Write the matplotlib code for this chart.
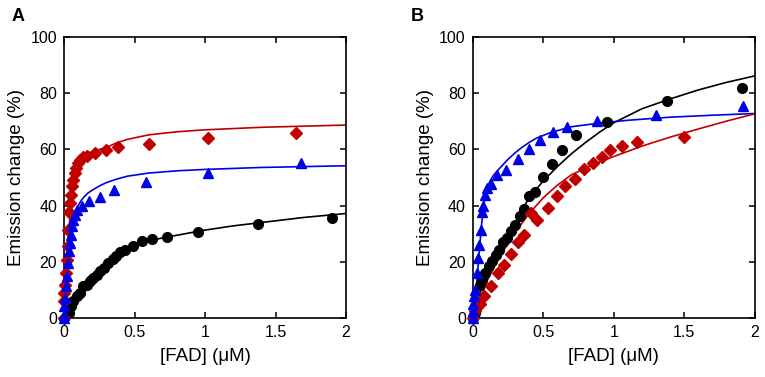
import matplotlib
matplotlib.use("Agg")
import matplotlib.pyplot as plt

plt.rcParams.update({
    "font.family": ["Liberation Sans", "DejaVu Sans"],
    "font.size": 11,
})

RED = "#C00000"
BLUE = "#0000E6"
BLACK = "#000000"

# ---- panel A data ----
a_red_x = [0, 0, 0.0, 0.007, 0.012, 0.019, 0.026, 0.031, 0.038, 0.043, 0.050, 0.059,
           0.066, 0.078, 0.085, 0.097, 0.113, 0.137, 0.165, 0.22, 0.298, 0.385, 0.603,
           1.019, 1.645]
a_red_y = [0, 5.9, 8.9, 11.9, 16.0, 20.8, 25.5, 31.4, 37.7, 40.9, 43.9, 46.9,
           49.2, 51.6, 53.4, 55.2, 56.3, 57.3, 57.8, 58.6, 59.9, 61.0, 62.0,
           64.1, 65.8]
a_blue_x = [0, 0, 0.002, 0.009, 0.014, 0.021, 0.028, 0.035, 0.043, 0.050, 0.059, 0.066,
            0.078, 0.095, 0.125, 0.180, 0.255, 0.357, 0.579, 1.019, 1.681]
a_blue_y = [0, 1.2, 4.2, 7.1, 11.3, 14.8, 19.6, 23.7, 26.7, 29.7, 32.6, 35.0,
            36.8, 38.3, 39.7, 41.5, 43.1, 45.7, 48.3, 51.6, 55.2]
a_black_x = [0.035, 0.050, 0.066, 0.090, 0.113, 0.137, 0.165, 0.184, 0.208, 0.232, 0.255,
             0.284, 0.314, 0.345, 0.369, 0.397, 0.433, 0.487, 0.556, 0.626, 0.728, 0.948,
             1.374, 1.903]
a_black_y = [1.8, 4.4, 5.9, 7.7, 8.9, 11.3, 11.9, 13.0, 14.2, 15.4, 16.6,
             17.8, 19.6, 21.0, 22.2, 23.4, 24.3, 25.7, 27.3, 28.1, 28.7, 30.6,
             33.6, 35.6]

a_red_fit_x = [0, 0.01, 0.02, 0.03, 0.04, 0.05, 0.06, 0.07, 0.08, 0.09, 0.1, 0.12, 0.14,
               0.17, 0.2, 0.25, 0.3, 0.37, 0.45, 0.6, 0.8, 1.0, 1.4, 2.0]
a_red_fit_y = [0, 9, 18, 27, 35, 42, 47, 50.5, 53, 54.6, 55.7, 57.0, 57.8,
               58.6, 59.2, 60.0, 60.7, 62.3, 63.6, 65.2, 66.3, 67.0, 67.9, 68.7]
a_blue_fit_x = [0, 0.01, 0.02, 0.03, 0.04, 0.05, 0.06, 0.07, 0.08, 0.1, 0.12, 0.14, 0.17,
                0.2, 0.25, 0.3, 0.37, 0.45, 0.6, 0.8, 1.0, 1.4, 2.0]
a_blue_fit_y = [0, 7, 14, 20, 25.5, 30, 33.5, 36, 37.8, 40, 41.7, 43, 44.5,
                45.5, 47, 48.2, 49.4, 50.5, 51.6, 52.4, 52.9, 53.6, 54.2]
a_black_fit_x = [0.02, 0.05, 0.1, 0.15, 0.2, 0.25, 0.3, 0.4, 0.5, 0.6, 0.75, 1.0, 1.2,
                 1.4, 1.7, 2.0]
a_black_fit_y = [0, 3.5, 8, 11.5, 14.5, 17.2, 19.5, 23, 25.7, 27.5, 29.0, 31.3, 32.8,
                 34.0, 35.8, 37.2]

# ---- panel B data ----
b_black_x = [0.005, 0.017, 0.040, 0.052, 0.064, 0.087, 0.116, 0.139, 0.165, 0.189, 0.217,
             0.241, 0.272, 0.300, 0.335, 0.366, 0.399, 0.442, 0.496, 0.560, 0.635, 0.732,
             0.949, 1.381, 1.913]
b_black_y = [0, 1.8, 4.7, 11.9, 13.6, 16.0, 18.4, 20.2, 22.3, 24.3, 26.9,
             28.5, 30.8, 33.2, 36.2, 38.8, 43.5, 44.7, 50.1, 54.8, 59.7, 65.2,
             69.8, 77.3, 81.9]
b_blue_x = [0, 0, 0.005, 0.009, 0.017, 0.028, 0.040, 0.047, 0.057, 0.064, 0.076, 0.087,
            0.104, 0.128, 0.170, 0.234, 0.319, 0.401, 0.477, 0.571, 0.666, 0.878,
            1.303, 1.917]
b_blue_y = [0, 2.4, 5.1, 7.7, 10.1, 16.0, 21.4, 26.1, 31.4, 37.6, 39.7, 43.9,
            46.3, 47.7, 50.8, 52.8, 56.6, 60.3, 63.5, 66.1, 67.9, 70.0,
            72.4, 75.6]
b_red_x = [0, 0.017, 0.052, 0.080, 0.130, 0.182, 0.224, 0.272, 0.319, 0.366, 0.411, 0.453,
           0.531, 0.595, 0.654, 0.725, 0.789, 0.850, 0.914, 0.973, 1.055, 1.166, 1.497]
b_red_y = [0, 2.4, 5.1, 7.9, 11.3, 16.0, 19.0, 22.9, 27.0, 29.7, 37.4, 35.0,
           39.1, 43.3, 46.9, 49.6, 53.0, 55.2, 57.3, 59.9, 61.3, 62.5, 64.4]

b_black_fit_x = [0, 0.03, 0.06, 0.1, 0.15, 0.2, 0.25, 0.3, 0.35, 0.4, 0.5, 0.6, 0.7,
                 0.8, 0.9, 1.0, 1.2, 1.4, 1.6, 1.8, 2.0]
b_black_fit_y = [0, 5.5, 10.5, 15.5, 20.5, 25.3, 29.8, 34.0, 38.5, 42.8, 48.8, 53.9, 58.5,
                 62.5, 66.2, 69.5, 74.5, 78.0, 81.2, 83.9, 86.2]
b_blue_fit_x = [0, 0.01, 0.02, 0.03, 0.04, 0.05, 0.06, 0.07, 0.08, 0.09, 0.1, 0.12, 0.14,
                0.17, 0.2, 0.25, 0.3, 0.35, 0.4, 0.45, 0.55, 0.7, 0.9, 1.1, 1.4, 1.7, 2.0]
b_blue_fit_y = [0, 3.5, 8, 13.5, 20, 26, 32, 37, 41, 43.8, 46, 48.5, 50.3,
                52.2, 53.8, 56.5, 58.8, 60.8, 62.5, 64.0, 66.0, 68.1, 69.4, 70.4, 71.5, 72.2, 72.8]
b_red_fit_x = [0, 0.05, 0.1, 0.15, 0.2, 0.3, 0.4, 0.5, 0.6, 0.7, 0.85, 1.0, 1.2, 1.4,
               1.6, 1.8, 2.0]
b_red_fit_y = [0, 7, 13, 18, 22.5, 30.5, 37.2, 42.8, 47.3, 51, 54.5, 57.5, 61.2, 64.4,
               67.3, 70.1, 72.7]

xticks = [0, 0.5, 1, 1.5, 2]
xticklabels = ["0", "0.5", "1", "1.5", "2"]
yticks = [0, 20, 40, 60, 80, 100]

fig = plt.figure(figsize=(7.65, 3.77), dpi=100)
axA = fig.add_axes([0.0837, 0.1565, 0.3686, 0.745])
axB = fig.add_axes([0.618, 0.1565, 0.3686, 0.745])


def style(ax):
    ax.set_xlim(0, 2)
    ax.set_ylim(0, 100)
    ax.set_xticks(xticks)
    ax.set_xticklabels(xticklabels)
    ax.set_yticks(yticks)
    ax.tick_params(direction="in", top=True, right=True, length=4, width=1.1,
                   labelsize=11.5, pad=5)
    for s in ax.spines.values():
        s.set_linewidth(1.2)
    ax.set_xlabel("[FAD] (\u03bcM)", fontsize=13.5, labelpad=6)
    ax.set_ylabel("Emission change (%)", fontsize=13.5, labelpad=4)


lw = 1.2
axA.plot(a_red_fit_x, a_red_fit_y, color=RED, lw=lw, zorder=2)
axA.plot(a_blue_fit_x, a_blue_fit_y, color=BLUE, lw=lw, zorder=2)
axA.plot(a_black_fit_x, a_black_fit_y, color=BLACK, lw=lw, zorder=2)
axA.plot(a_black_x, a_black_y, "o", color=BLACK, ms=7, clip_on=False, zorder=3)
axA.plot(a_red_x, a_red_y, "D", color=RED, ms=6, clip_on=False, zorder=3)
axA.plot(a_blue_x, a_blue_y, "^", color=BLUE, ms=7, clip_on=False, zorder=4)
style(axA)

axB.plot(b_black_fit_x, b_black_fit_y, color=BLACK, lw=lw, zorder=2)
axB.plot(b_blue_fit_x, b_blue_fit_y, color=BLUE, lw=lw, zorder=2)
axB.plot(b_red_fit_x, b_red_fit_y, color=RED, lw=lw, zorder=2)
axB.plot(b_black_x, b_black_y, "o", color=BLACK, ms=7, clip_on=False, zorder=3)
axB.plot(b_red_x, b_red_y, "D", color=RED, ms=6, clip_on=False, zorder=3)
axB.plot(b_blue_x, b_blue_y, "^", color=BLUE, ms=7, clip_on=False, zorder=4)
style(axB)

fig.text(0.015, 0.978, "A", fontsize=13, fontweight="bold", va="top")
fig.text(0.537, 0.978, "B", fontsize=13, fontweight="bold", va="top")

fig.savefig("out.png", dpi=100)
